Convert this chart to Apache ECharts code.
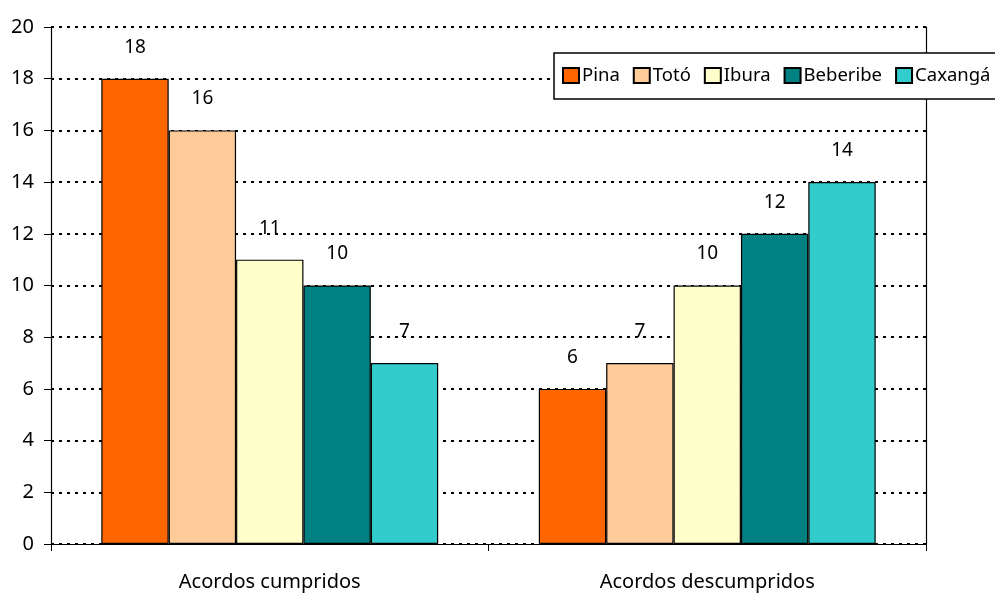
<!DOCTYPE html>
<html>
<head>
<meta charset="UTF-8">
<title></title>
<script src="https://cdn.jsdelivr.net/npm/echarts@6/dist/echarts.min.js"></script>
<style>html,body{margin:0;padding:0;background:#fff;}</style>
</head>
<body>
<div id="main" style="width:995px;height:594px;"></div>
<script type="text/javascript">
var categories = ['Acordos cumpridos', 'Acordos descumpridos'];
var seriesNames = ['Pina', 'Totó', 'Ibura', 'Beberibe', 'Caxangá'];
var seriesColors = ['#FF6600', '#FFCC99', '#FFFFCC', '#008080', '#33CCCC'];
var pina = [18, 6];
var toto = [16, 7];
var ibura = [11, 10];
var beberibe = [10, 12];
var caxanga = [7, 14];
var values = [pina, toto, ibura, beberibe, caxanga];

var font = 'Noto Sans';
var myChart = echarts.init(document.getElementById('main'));

var series = seriesNames.map(function (name, i) {
	return {
		name: name,
		type: 'bar',
		data: values[i],
		barGap: '0%',
		barCategoryGap: '23%',
		itemStyle: { color: seriesColors[i], borderColor: '#000', borderWidth: 1.2 },
		label: {
			show: true,
			position: 'top',
			distance: 22,
			color: '#000',
			fontFamily: font,
			fontSize: 19
		}
	};
});

var option = {
	animation: false,
	backgroundColor: '#fff',
	grid: { left: 51, right: 69, top: 27, bottom: 50 },
	legend: {
		left: 554,
		top: 53,
		width: 520,
		data: seriesNames,
		icon: 'rect',
		itemWidth: 16,
		itemHeight: 15,
		itemGap: 13,
		padding: [13, 20, 14, 8],
		backgroundColor: '#fff',
		borderColor: '#000',
		borderWidth: 1.5,
		textStyle: { fontFamily: font, fontSize: 18.5, color: '#000', padding: [0, 0, 0, -2] }
	},
	xAxis: {
		type: 'category',
		data: categories,
		axisLine: { lineStyle: { color: '#000', width: 1.2 } },
		axisTick: { show: true, length: 7, lineStyle: { color: '#000' } },
		axisLabel: { margin: 28, color: '#000', fontFamily: font, fontSize: 20 }
	},
	yAxis: [{
		type: 'value',
		min: 0,
		max: 20,
		interval: 2,
		axisLine: { show: true, lineStyle: { color: '#000', width: 1.2 } },
		axisTick: { show: true, length: 7, lineStyle: { color: '#000' } },
		axisLabel: { margin: 17, color: '#000', fontFamily: font, fontSize: 20 },
		splitLine: { show: true, lineStyle: { color: '#000', type: [3, 5], width: 2 } }
	}, {
		type: 'value',
		position: 'right',
		min: 0,
		max: 20,
		interval: 2,
		axisLine: { show: true, lineStyle: { color: '#000', width: 1.2 } },
		axisTick: { show: false },
		axisLabel: { show: false },
		splitLine: { show: false }
	}],
	series: series
};

myChart.setOption(option);
</script>
</body>
</html>
